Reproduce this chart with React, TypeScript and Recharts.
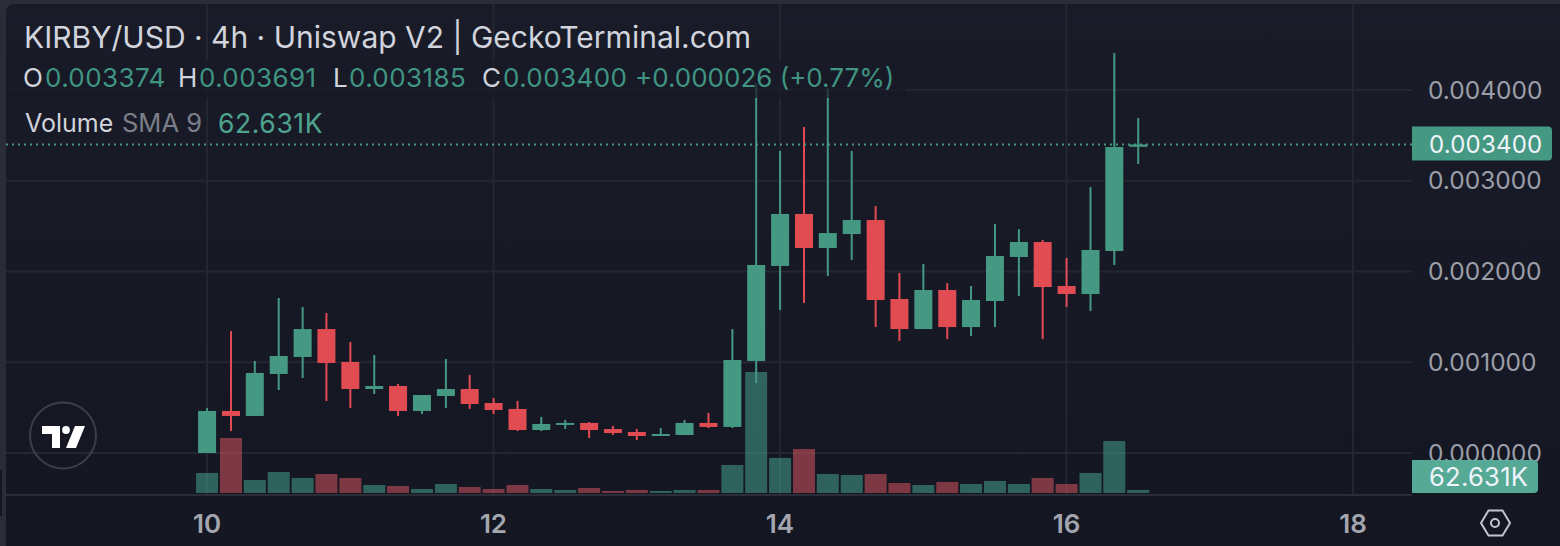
import React from 'react';
import { ComposedChart, Bar, XAxis, YAxis, CartesianGrid, ReferenceLine } from 'recharts';

const candleTimes = [
  10, 10.167, 10.333, 10.5, 10.667, 10.833, 11, 11.167, 11.333, 11.5,
  11.667, 11.833, 12, 12.167, 12.333, 12.5, 12.667, 12.833, 13, 13.167,
  13.333, 13.5, 13.667, 13.833, 14, 14.167, 14.333, 14.5, 14.667, 14.833,
  15, 15.167, 15.333, 15.5, 15.667, 15.833, 16, 16.167, 16.333, 16.5,
];
const opens = [
  0.000000, 0.000463, 0.000408, 0.000871, 0.001058, 0.001366, 0.001003, 0.000705, 0.000738, 0.000463,
  0.000628, 0.000705, 0.000551, 0.000485, 0.000253, 0.000309, 0.000331, 0.000264, 0.000231, 0.000187,
  0.000198, 0.000331, 0.000287, 0.001014, 0.002061, 0.002634, 0.002259, 0.002413, 0.002567, 0.001697,
  0.001366, 0.001796, 0.001388, 0.001675, 0.002160, 0.002325, 0.001840, 0.001752, 0.002226, 0.003374,
];
const highs = [
  0.000496, 0.001344, 0.001014, 0.001708, 0.001609, 0.001543, 0.001223, 0.001080, 0.000760, 0.000639,
  0.001036, 0.000860, 0.000606, 0.000573, 0.000397, 0.000364, 0.000342, 0.000298, 0.000264, 0.000275,
  0.000364, 0.000441, 0.001366, 0.004073, 0.003328, 0.003592, 0.004018, 0.003328, 0.002722, 0.001983,
  0.002083, 0.001873, 0.001840, 0.002523, 0.002468, 0.002347, 0.002149, 0.002931, 0.004408, 0.003691,
];
const lows = [
  0.000000, 0.000242, 0.000408, 0.000694, 0.000826, 0.000573, 0.000496, 0.000650, 0.000408, 0.000430,
  0.000496, 0.000485, 0.000430, 0.000242, 0.000242, 0.000264, 0.000165, 0.000198, 0.000143, 0.000187,
  0.000198, 0.000275, 0.000275, 0.000771, 0.001576, 0.001653, 0.001950, 0.002127, 0.001388, 0.001234,
  0.001366, 0.001256, 0.001289, 0.001388, 0.001730, 0.001256, 0.001609, 0.001565, 0.002072, 0.003185,
];
const closes = [
  0.000463, 0.000408, 0.000882, 0.001069, 0.001366, 0.000992, 0.000705, 0.000738, 0.000463, 0.000639,
  0.000705, 0.000540, 0.000474, 0.000253, 0.000320, 0.000331, 0.000253, 0.000220, 0.000187, 0.000209,
  0.000331, 0.000287, 0.001025, 0.002072, 0.002634, 0.002259, 0.002424, 0.002567, 0.001686, 0.001366,
  0.001796, 0.001388, 0.001686, 0.002171, 0.002325, 0.001829, 0.001752, 0.002237, 0.003372, 0.003400,
];
// volume in thousands
const volumes = [
  418, 1150, 272, 439, 314, 397, 314, 167, 146, 84,
  188, 125, 84, 167, 84, 63, 105, 42, 63, 42,
  63, 63, 585, 2529, 732, 920, 397, 376, 397, 209,
  167, 230, 188, 251, 188, 314, 188, 418, 1087, 63,
];
const priceTicks = [0, 0.001, 0.002, 0.003, 0.004];
const dayTicks = [10, 12, 14, 16, 18];

const GREEN = '#459882';
const RED = '#e14b52';
const TEXT = '#d1d4dc';
const LEGEND_GREEN = '#3f9582';
const FONT = 'Inter, sans-serif';

const chartData = candleTimes.map((t, i) => ({
  t,
  open: opens[i],
  high: highs[i],
  low: lows[i],
  close: closes[i],
  volume: volumes[i],
  range: [lows[i], highs[i]],
}));

function Candle(props: any) {
  const { x, y, width, height, payload } = props;
  const color = payload.close >= payload.open ? GREEN : RED;
  const span = payload.high - payload.low || 1;
  const yOf = (v: number) => y + ((payload.high - v) / span) * height;
  const top = yOf(Math.max(payload.open, payload.close));
  const bottom = yOf(Math.min(payload.open, payload.close));
  return (
    <g>
      <rect x={x + width / 2 - 1} y={y} width={2} height={height} fill={color} />
      <rect x={x} y={top} width={width} height={Math.max(bottom - top, 2)} fill={color} />
    </g>
  );
}

function VolumeBar(props: any) {
  const { x, y, width, height, payload } = props;
  const up = payload.close >= payload.open;
  return <rect x={x} y={y} width={width} height={height} fill={up ? '#47a08c' : '#dc5762'} fillOpacity={up ? 0.55 : 0.52} />;
}

function PriceTag(props: any) {
  const { viewBox, value } = props;
  const left = viewBox.x + viewBox.width;
  return (
    <g>
      <path
        d={`M${left} ${viewBox.y - 18}h136a4 4 0 0 1 4 4v26a4 4 0 0 1 -4 4h-136z`}
        fill={GREEN}
      />
      <text x={left + 17} y={viewBox.y + 9} fill="#f0f3fa" fontSize={24} fontFamily={FONT} letterSpacing={0.2}>
        {value}
      </text>
    </g>
  );
}

function Label({ left, top, color, size, spacing, children }: any) {
  return (
    <span
      style={{
        position: 'absolute',
        left,
        top,
        color,
        fontSize: size,
        letterSpacing: spacing,
        lineHeight: '32px',
        whiteSpace: 'nowrap',
      }}
    >
      {children}
    </span>
  );
}

export default function App() {
  return (
    <div
      style={{
        position: 'fixed',
        left: 0,
        top: 0,
        width: 1560,
        height: 546,
        overflow: 'hidden',
        background: '#2a2d38',
        fontFamily: FONT,
      }}
    >
      <div
        style={{
          position: 'absolute',
          left: 6,
          top: 4,
          right: 0,
          bottom: 0,
          borderTopLeftRadius: 8,
          background: 'linear-gradient(#191c28, #141722)',
        }}
      />
      <div style={{ position: 'absolute', left: 0, top: 470, width: 2, height: 46, background: '#141722' }} />

      <div style={{ position: 'absolute', left: 0, top: 0 }}>
        <ComposedChart
          width={1560}
          height={546}
          data={chartData}
          margin={{ top: 4, right: 0, bottom: 0, left: 6 }}
        >
          <CartesianGrid
            stroke="#242732"
            strokeWidth={2}
            yAxisId="price"
            xAxisId="price"
            horizontalValues={priceTicks}
            verticalValues={dayTicks}
          />
          <XAxis
            xAxisId="price"
            type="number"
            dataKey="t"
            domain={[8.597, 18.412]}
            allowDataOverflow
            ticks={dayTicks}
            height={51}
            tickLine={false}
            axisLine={{ stroke: '#2a2d38', strokeWidth: 2 }}
            tickMargin={14}
            tick={{ fill: '#a3a6af', fontSize: 26, fontWeight: 600, fontFamily: FONT }}
          />
          <XAxis xAxisId="volume" type="number" dataKey="t" domain={[8.597, 18.412]} allowDataOverflow hide />
          <YAxis
            yAxisId="price"
            orientation="right"
            width={148}
            domain={[-0.000463, 0.004948]}
            allowDataOverflow
            ticks={priceTicks}
            tickFormatter={(v: number) => v.toFixed(6)}
            tickLine={false}
            axisLine={false}
            tickMargin={10}
            tick={{ fill: '#9b9ea8', fontSize: 24.5, fontFamily: FONT }}
          />
          <YAxis yAxisId="volume" hide domain={[-42, 10220]} allowDataOverflow />
          <Bar
            xAxisId="volume"
            yAxisId="volume"
            dataKey="volume"
            barSize={22}
            shape={<VolumeBar />}
            isAnimationActive={false}
          />
          <Bar
            xAxisId="price"
            yAxisId="price"
            dataKey="range"
            barSize={18}
            shape={<Candle />}
            isAnimationActive={false}
          />
          <ReferenceLine
            xAxisId="price"
            yAxisId="price"
            y={closes[closes.length - 1]}
            stroke={GREEN}
            strokeWidth={2}
            strokeDasharray="2 4"
            label={<PriceTag value={closes[closes.length - 1].toFixed(6)} />}
          />
        </ComposedChart>
      </div>

      <div style={{ position: 'absolute', left: 6, top: 60, width: 900, height: 38, background: 'rgba(24,27,39,0.72)' }} />

      <Label left={24} top={21} color={TEXT} size={30}>
        KIRBY/USD · 4h · Uniswap V2 | GeckoTerminal.com
      </Label>
      <Label left={23} top={62} color={TEXT} size={26}>O</Label>
      <Label left={45} top={62} color={LEGEND_GREEN} size={26} spacing={0.4}>0.003374</Label>
      <Label left={178} top={62} color={TEXT} size={26}>H</Label>
      <Label left={199} top={62} color={LEGEND_GREEN} size={26} spacing={0.4}>0.003691</Label>
      <Label left={333} top={62} color={TEXT} size={26}>L</Label>
      <Label left={349} top={62} color={LEGEND_GREEN} size={26} spacing={0.4}>0.003185</Label>
      <Label left={482} top={62} color={TEXT} size={26}>C</Label>
      <Label left={503} top={62} color={LEGEND_GREEN} size={26} spacing={0.4}>0.003400</Label>
      <Label left={635} top={62} color={LEGEND_GREEN} size={26}>+0.000026 (+0.77%)</Label>
      <Label left={25} top={107} color={TEXT} size={25}>Volume</Label>
      <Label left={122} top={107} color="#7c7f89" size={25.5}>SMA 9</Label>
      <Label left={218} top={107} color="#4ea48f" size={26.5} spacing={0.6}>62.631K</Label>

      <div
        style={{
          position: 'absolute',
          left: 1412,
          top: 460,
          width: 126,
          height: 33,
          background: '#55a995',
          borderRadius: '0 4px 4px 0',
          color: '#f0f3fa',
          fontSize: 25.5,
          letterSpacing: 0.3,
          lineHeight: '33px',
          paddingLeft: 17,
          boxSizing: 'border-box',
        }}
      >
        62.631K
      </div>

      <svg style={{ position: 'absolute', left: 25, top: 398 }} width={76} height={76} viewBox="25 398 76 76">
        <circle cx={63} cy={435.5} r={33} fill="none" stroke="#3c3f4a" strokeWidth={2} />
        <path d="M42 426h18v22h-8v-14h-10z" fill="#fff" />
        <circle cx={66} cy={430} r={3.9} fill="#fff" />
        <path d="M75 426h10l-9 22h-10z" fill="#fff" />
      </svg>

      <svg style={{ position: 'absolute', left: 1475, top: 504 }} width={40} height={38} viewBox="1475 504 40 38">
        <path d="M1481 523l7.500-12.500h14l7.500 12.500-7.500 12.500h-14z" fill="none" stroke="#c2c5cd" strokeWidth={2} />
        <circle cx={1495} cy={523} r={4} fill="none" stroke="#c2c5cd" strokeWidth={2} />
      </svg>
    </div>
  );
}
